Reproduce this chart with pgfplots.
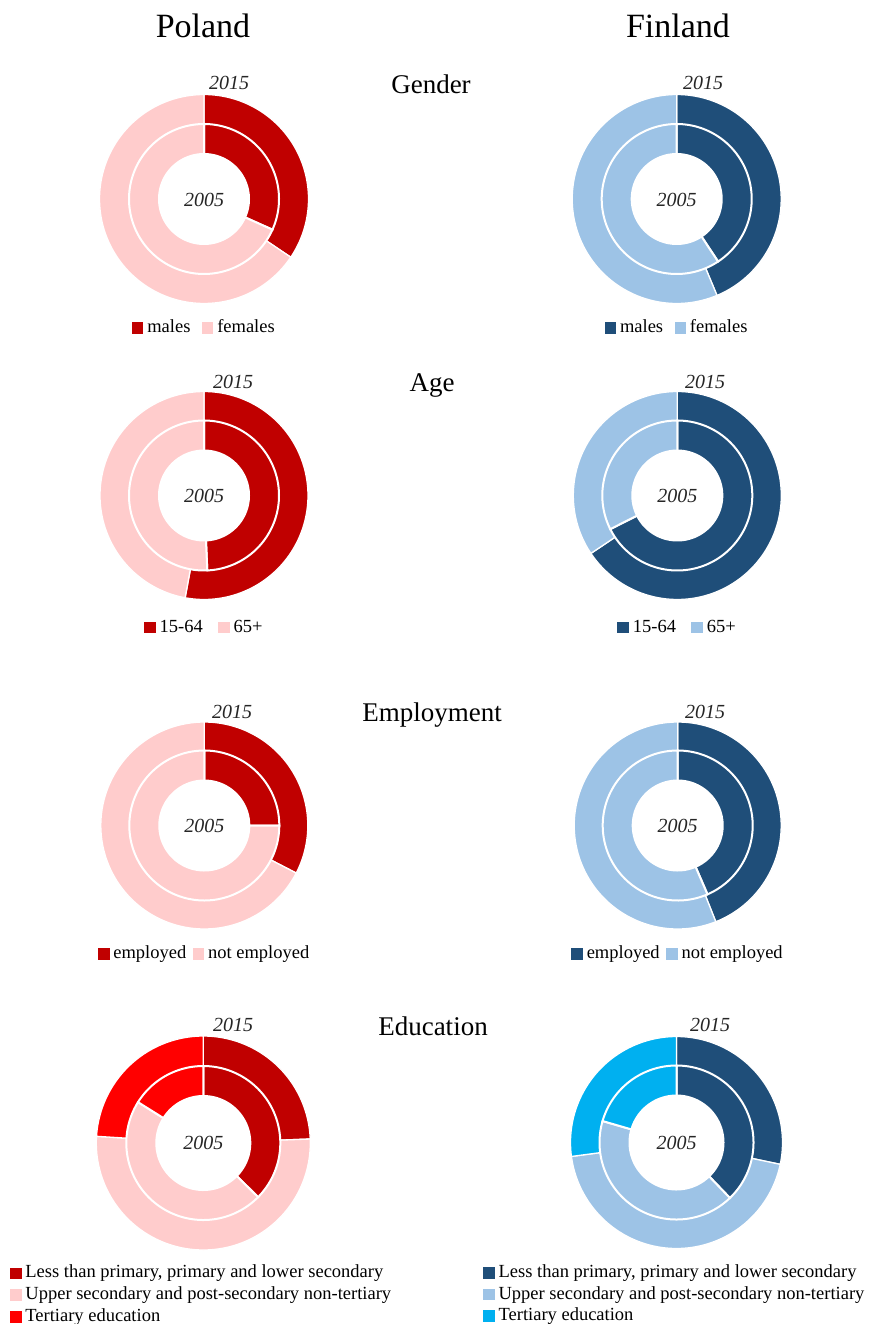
\documentclass[border=0pt]{standalone}
\usepackage{fontspec}
\setmainfont{Liberation Serif}
\usepackage{pgfplots}
\usepackage{pgfplotstable}
\pgfplotsset{compat=1.18}

\definecolor{plDark}{HTML}{C00000}
\definecolor{plLight}{HTML}{FFCCCC}
\definecolor{plBright}{HTML}{FF0000}
\definecolor{fiDark}{HTML}{1F4E79}
\definecolor{fiLight}{HTML}{9DC3E6}
\definecolor{fiBright}{HTML}{00B0F0}

% shares in percent, drawn clockwise from 12 o'clock
\pgfplotstableread{
cat y2005 y2015
males 31.7 34.4
females 68.3 65.6
}\PLgender
\pgfplotstableread{
cat y2005 y2015
males 40.7 43.7
females 59.3 56.3
}\FIgender
\pgfplotstableread{
cat y2005 y2015
working 49.3 52.9
old 50.7 47.1
}\PLage
\pgfplotstableread{
cat y2005 y2015
working 67.6 65.6
old 32.4 34.4
}\FIage
\pgfplotstableread{
cat y2005 y2015
employed 25.0 32.6
notemployed 75.0 67.4
}\PLemp
\pgfplotstableread{
cat y2005 y2015
employed 43.5 44.0
notemployed 56.5 56.0
}\FIemp
\pgfplotstableread{
cat y2005 y2015
less 37.4 24.4
upper 46.5 51.6
tertiary 16.1 24.0
}\PLedu
\pgfplotstableread{
cat y2005 y2015
less 37.8 28.3
upper 41.7 44.6
tertiary 20.5 27.1
}\FIedu

\newcommand\slice[5]{%
  \pgfplotstablegetelem{#2}{#3}\of#1%
  \pgfmathsetmacro\sliceA{90-3.6*(\cum+\pgfplotsretval)}%
  \pgfmathsetmacro\sliceB{90-3.6*\cum}%
  \pgfmathsetmacro\newcum{\cum+\pgfplotsretval}%
  \xdef\cum{\newcum}%
  \edef\doslice{\noexpand\addplot[forget plot, fill=#5, draw=white, line width=\slicelw, domain=\sliceA:\sliceB, samples=100, variable=\noexpand\t]
    ({#4*cos(\noexpand\t)},{#4*sin(\noexpand\t)}) -- (axis cs:0,0) -- cycle;}%
  \doslice
}
\newcommand\ringtwo[6]{\gdef\cum{0}\def\slicelw{#4}\slice{#1}{0}{#2}{#3}{#5}\slice{#1}{1}{#2}{#3}{#6}}
\newcommand\ringthree[7]{\gdef\cum{0}\def\slicelw{#4}\slice{#1}{0}{#2}{#3}{#5}\slice{#1}{1}{#2}{#3}{#6}\slice{#1}{2}{#2}{#3}{#7}}
\newcommand\hole[1]{\addplot[forget plot, fill=white, draw=none, domain=0:360, samples=120, variable=\t] ({#1*cos(\t)},{#1*sin(\t)}) -- cycle;}

\pgfplotsset{donut/.style={scale only axis, width=240pt, height=240pt,
  xmin=-120, xmax=120, ymin=-120, ymax=120, hide axis, clip=false, anchor=center,
  legend cell align=left,
  legend image code/.code={\fill[##1, draw=none] (0pt,-5.8pt) rectangle (11.6pt,5.8pt);},
  legend style={draw=none, fill=none, inner sep=0pt, outer sep=0pt,
    font=\fontsize{18.5}{21.7}\selectfont,
    nodes={inner sep=1.35pt, text height=14pt, text depth=5pt},
    /tikz/every odd column/.append style={column sep=2.5pt}},
}}
\tikzset{yr/.style={font=\fontsize{20}{24}\selectfont\itshape, inner sep=0pt, text=black!85}}

\begin{document}
\begin{tikzpicture}
\path[use as bounding box] (0,0) rectangle (872pt,-1324pt);

\node[anchor=base, inner sep=0pt, font=\fontsize{34}{40}\selectfont] at (203pt,-37.7pt) {Poland};
\node[anchor=base, inner sep=0pt, font=\fontsize{34}{40}\selectfont] at (678pt,-37.7pt) {Finland};

\node[anchor=base, inner sep=0pt, font=\fontsize{27}{32}\selectfont] at (431pt,-93.3pt) {Gender};
\node[anchor=base, inner sep=0pt, font=\fontsize{27}{32}\selectfont] at (432pt,-391pt) {Age};
\node[anchor=base, inner sep=0pt, font=\fontsize{27}{32}\selectfont] at (432pt,-721.5pt) {Employment};
\node[anchor=base, inner sep=0pt, font=\fontsize{27}{32}\selectfont] at (433pt,-1035.5pt) {Education};

% ---------- Gender ----------
\begin{axis}[donut, at={(204pt,-199pt)}, legend columns=2,
  legend style={at={(0.5,-0.0375)}, anchor=center, /tikz/every even column/.append style={column sep=10pt}}]
\ringtwo{\PLgender}{y2015}{104.5}{1.3pt}{plDark}{plLight}
\ringtwo{\PLgender}{y2005}{75}{2pt}{plDark}{plLight}
\hole{46}
\addlegendimage{fill=plDark}\addlegendentry{males}
\addlegendimage{fill=plLight}\addlegendentry{females}
\end{axis}
\begin{axis}[donut, at={(676.7pt,-199pt)}, legend columns=2,
  legend style={at={(0.5,-0.0375)}, anchor=center, /tikz/every even column/.append style={column sep=10pt}}]
\ringtwo{\FIgender}{y2015}{104.5}{1.3pt}{fiDark}{fiLight}
\ringtwo{\FIgender}{y2005}{75}{2pt}{fiDark}{fiLight}
\hole{46}
\addlegendimage{fill=fiDark}\addlegendentry{males}
\addlegendimage{fill=fiLight}\addlegendentry{females}
\end{axis}

% ---------- Age ----------
\begin{axis}[donut, at={(204pt,-495.5pt)}, legend columns=2,
  legend style={at={(0.5,-0.05)}, anchor=center, /tikz/every even column/.append style={column sep=14pt}}]
\ringtwo{\PLage}{y2015}{104}{1.3pt}{plDark}{plLight}
\ringtwo{\PLage}{y2005}{75}{2pt}{plDark}{plLight}
\hole{46}
\addlegendimage{fill=plDark}\addlegendentry{15-64}
\addlegendimage{fill=plLight}\addlegendentry{65+}
\end{axis}
\begin{axis}[donut, at={(677.3pt,-495.5pt)}, legend columns=2,
  legend style={at={(0.5,-0.05)}, anchor=center, /tikz/every even column/.append style={column sep=14pt}}]
\ringtwo{\FIage}{y2015}{104}{1.3pt}{fiDark}{fiLight}
\ringtwo{\FIage}{y2005}{75}{2pt}{fiDark}{fiLight}
\hole{46}
\addlegendimage{fill=fiDark}\addlegendentry{15-64}
\addlegendimage{fill=fiLight}\addlegendentry{65+}
\end{axis}

% ---------- Employment ----------
\begin{axis}[donut, at={(204.3pt,-825.5pt)}, legend columns=2,
  legend style={at={(0.5,-0.0354)}, anchor=center, /tikz/every even column/.append style={column sep=5pt}}]
\ringtwo{\PLemp}{y2015}{103.5}{1.3pt}{plDark}{plLight}
\ringtwo{\PLemp}{y2005}{75}{2pt}{plDark}{plLight}
\hole{46}
\addlegendimage{fill=plDark}\addlegendentry{employed}
\addlegendimage{fill=plLight}\addlegendentry{not employed}
\end{axis}
\begin{axis}[donut, at={(677.7pt,-825.5pt)}, legend columns=2,
  legend style={at={(0.5,-0.0354)}, anchor=center, /tikz/every even column/.append style={column sep=5pt}}]
\ringtwo{\FIemp}{y2015}{103.5}{1.3pt}{fiDark}{fiLight}
\ringtwo{\FIemp}{y2005}{75}{2pt}{fiDark}{fiLight}
\hole{46}
\addlegendimage{fill=fiDark}\addlegendentry{employed}
\addlegendimage{fill=fiLight}\addlegendentry{not employed}
\end{axis}

% ---------- Education ----------
\begin{axis}[donut, at={(203.3pt,-1143pt)}, legend columns=1,
  legend style={at={(-0.3055,-0.1333)}, anchor=west}]
\ringthree{\PLedu}{y2015}{107}{1.3pt}{plDark}{plLight}{plBright}
\ringthree{\PLedu}{y2005}{77}{2pt}{plDark}{plLight}{plBright}
\hole{48}
\addlegendimage{fill=plDark}\addlegendentry{Less than primary, primary and lower secondary}
\addlegendimage{fill=plLight}\addlegendentry{Upper secondary and post-secondary non-tertiary}
\addlegendimage{fill=plBright}\addlegendentry{Tertiary education}
\end{axis}
\begin{axis}[donut, at={(676.5pt,-1142.5pt)}, legend columns=1,
  legend style={at={(-0.3055,-0.1333)}, anchor=west}]
\ringthree{\FIedu}{y2015}{106}{1.3pt}{fiDark}{fiLight}{fiBright}
\ringthree{\FIedu}{y2005}{77}{2pt}{fiDark}{fiLight}{fiBright}
\hole{48}
\addlegendimage{fill=fiDark}\addlegendentry{Less than primary, primary and lower secondary}
\addlegendimage{fill=fiLight}\addlegendentry{Upper secondary and post-secondary non-tertiary}
\addlegendimage{fill=fiBright}\addlegendentry{Tertiary education}
\end{axis}

% ---------- year labels ----------
\node[yr, anchor=base west] at (209pt,-90pt) {2015};
\node[yr, anchor=base west] at (683pt,-90pt) {2015};
\node[yr, anchor=base west] at (213pt,-388.3pt) {2015};
\node[yr, anchor=base west] at (685pt,-388.3pt) {2015};
\node[yr, anchor=base west] at (212pt,-718.3pt) {2015};
\node[yr, anchor=base west] at (685pt,-718.3pt) {2015};
\node[yr, anchor=base west] at (213pt,-1031.7pt) {2015};
\node[yr, anchor=base west] at (690pt,-1031.7pt) {2015};

\node[yr] at (204pt,-200pt) {2005};
\node[yr] at (676.7pt,-200pt) {2005};
\node[yr] at (204pt,-496pt) {2005};
\node[yr] at (677.3pt,-496pt) {2005};
\node[yr] at (204.3pt,-826pt) {2005};
\node[yr] at (677.7pt,-826pt) {2005};
\node[yr] at (203.3pt,-1143.3pt) {2005};
\node[yr] at (676.5pt,-1142.5pt) {2005};
\end{tikzpicture}
\end{document}
